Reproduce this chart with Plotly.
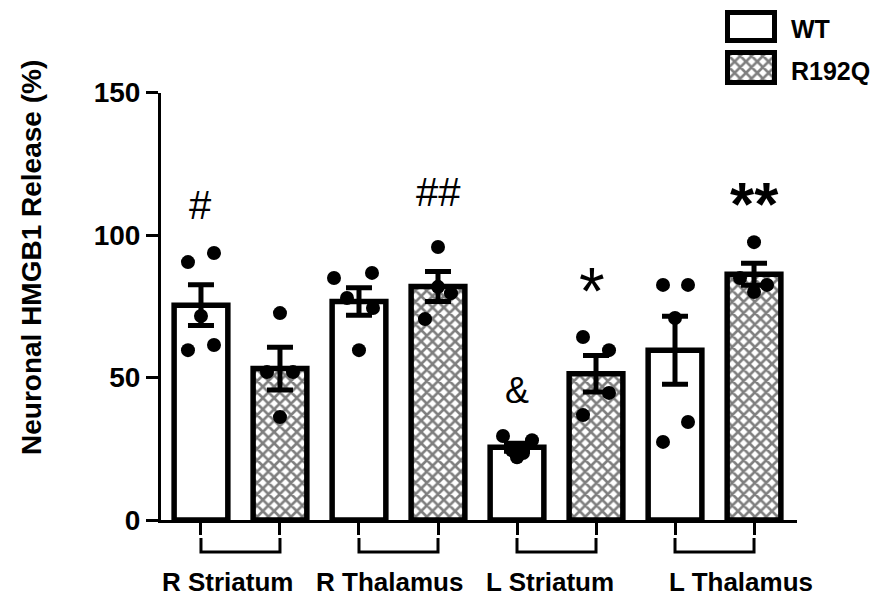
import numpy as np
import plotly.graph_objects as go

# ---- data -------------------------------------------------------------
regions = ["R Striatum", "R Thalamus", "L Striatum", "L Thalamus"]
groups = ["WT", "R192Q"]

# individual animals, neuronal HMGB1 release (%)
wt_points = [
    [90.5, 93.7, 71.6, 59.6, 61.4],   # R Striatum
    [84.9, 86.7, 77.9, 74.4, 59.6],   # R Thalamus
    [29.5, 28.0, 22.0, 24.5, 23.5],   # L Striatum
    [82.5, 82.5, 70.9, 34.4, 27.4],   # L Thalamus
]
r192q_points = [
    [72.6, 51.9, 51.9, 36.1],         # R Striatum
    [95.8, 81.8, 79.6, 70.5],         # R Thalamus
    [64.2, 59.6, 44.6, 36.8],         # L Striatum
    [97.5, 84.9, 82.5, 80.0],         # L Thalamus
]
significance = ["#", "", "", "##", "&", "*", "", "**"]

y_ticks = [0, 50, 100, 150]

# ---- layout helpers ---------------------------------------------------
FONT = "Liberation Sans, Arial, sans-serif"
BAR_W = 0.68
PX_PER_UNIT = 79.0           # horizontal pixels per category slot
X_RANGE = [-0.506, 7.544]
AREA_TOP, AREA_BOTTOM = 4, 520
AREA_H = AREA_BOTTOM - AREA_TOP
HATCH = dict(shape="x", size=8, solidity=0.55, fgcolor="black", bgcolor="white")


def paper_y(px):
    return (AREA_BOTTOM - px) / AREA_H


# horizontal jitter of the dots (pixels), per bar
wt_jitter = [[-13, 13, 0, -13, 13], [-25, 13, -12, 14, 0],
             [-14, 15, 0, -5, 6], [-12, 13, 0, 13, -12]]
r192q_jitter = [[0, -13, 13, 0], [0, 0, 13, -13],
                [-13, 13, 13, -13], [0, -14, 13, 0]]

wt_x = [2 * i for i in range(len(regions))]
mut_x = [2 * i + 1 for i in range(len(regions))]


def mean_sem(pts):
    a = np.asarray(pts, dtype=float)
    return a.mean(), a.std(ddof=1) / np.sqrt(a.size)


wt_stats = [mean_sem(p) for p in wt_points]
mut_stats = [mean_sem(p) for p in r192q_points]

fig = go.Figure()

# bars with SEM error bars
fig.add_trace(go.Bar(
    x=wt_x, y=[m for m, _ in wt_stats], width=BAR_W,
    marker=dict(color="white", line=dict(color="black", width=5.5)),
    error_y=dict(type="data", array=[s for _, s in wt_stats], visible=True,
                 color="black", thickness=5, width=13),
    showlegend=False, name=groups[0]))
fig.add_trace(go.Bar(
    x=mut_x, y=[m for m, _ in mut_stats], width=BAR_W,
    marker=dict(color="white", line=dict(color="black", width=5.5), pattern=HATCH),
    error_y=dict(type="data", array=[s for _, s in mut_stats], visible=True,
                 color="black", thickness=5, width=13),
    showlegend=False, name=groups[1]))

# individual points
dx, dy = [], []
for xs, pts, jit in ((wt_x, wt_points, wt_jitter), (mut_x, r192q_points, r192q_jitter)):
    for x0, p, j in zip(xs, pts, jit):
        for v, o in zip(p, j):
            dx.append(x0 + o / PX_PER_UNIT)
            dy.append(v)
fig.add_trace(go.Scatter(x=dx, y=dy, mode="markers",
                         marker=dict(color="black", size=14, line=dict(width=0)),
                         showlegend=False, cliponaxis=False))

# legend swatches drawn on a small separate subplot
fig.add_trace(go.Bar(x=[39], y=[28], base=[49.5], width=[47],
                     marker=dict(color="white", line=dict(color="black", width=5)),
                     xaxis="x2", yaxis="y2", showlegend=False, hoverinfo="skip"))
fig.add_trace(go.Bar(x=[39], y=[30], base=[7.5], width=[47],
                     marker=dict(color="white", line=dict(color="black", width=5),
                                 pattern=HATCH),
                     xaxis="x2", yaxis="y2", showlegend=False, hoverinfo="skip"))

annotations = []
# legend text
for txt, py in zip(groups, [29.5, 71]):
    annotations.append(dict(text=txt, xref="paper", yref="paper",
                            x=(789 - 161) / 636, y=paper_y(py),
                            xanchor="left", yanchor="middle", showarrow=False,
                            font=dict(family=FONT, size=25, color="black", weight="bold")))

# significance marks: x offset, y value, font size, weight
sig_style = {0: (0.0, 110.5, 40, "normal"), 3: (0.0, 115, 40, "normal"),
             4: (0.0, 45.6, 36, "normal"), 5: (-0.05, 80.5, 66, "normal"),
             7: (0.0, 111, 62, "bold")}
all_x = [v for pair in zip(wt_x, mut_x) for v in pair]
for i, s in enumerate(significance):
    if not s:
        continue
    off, yv, fs, wt = sig_style[i]
    annotations.append(dict(text=s, x=all_x[i] + off, y=yv, xref="x", yref="y",
                            showarrow=False, xanchor="center", yanchor="middle",
                            font=dict(family=FONT, size=fs, color="black", weight=wt)))

# region labels
label_px = [228, 390, 550, 741]
for name, px in zip(regions, label_px):
    annotations.append(dict(text=name, xref="x", yref="paper",
                            x=(px - 201) / PX_PER_UNIT, y=paper_y(582),
                            showarrow=False, xanchor="center", yanchor="middle",
                            font=dict(family=FONT, size=26, color="black", weight="bold")))

# y-axis title
annotations.append(dict(text="Neuronal HMGB1 Release (%)", xref="paper", yref="paper",
                        x=(31 - 161) / 636, y=paper_y(258), textangle=-90,
                        showarrow=False, xanchor="center", yanchor="middle",
                        font=dict(family=FONT, size=28, color="black", weight="bold")))

# brackets joining the two genotypes of each region
shapes = []
for a, b in zip(wt_x, mut_x):
    shapes.append(dict(type="path", xref="x", yref="paper",
                       path=f"M {a},{paper_y(538)} L {a},{paper_y(552)} "
                            f"L {b},{paper_y(552)} L {b},{paper_y(538)}",
                       line=dict(color="black", width=3)))

fig.update_layout(
    width=876, height=598,
    margin=dict(l=161, r=79, t=AREA_TOP, b=598 - AREA_BOTTOM, autoexpand=False),
    paper_bgcolor="white", plot_bgcolor="white",
    barmode="overlay", showlegend=False,
    xaxis=dict(range=X_RANGE, domain=[0, 1], tickvals=all_x, showticklabels=False,
               ticks="outside", ticklen=12, tickwidth=3, tickcolor="black",
               showline=True, linewidth=3, linecolor="black", automargin=False,
               showgrid=False, zeroline=False, anchor="y"),
    yaxis=dict(range=[0, 150], domain=[0, paper_y(92.5)], tickvals=y_ticks,
               ticks="outside", ticklen=12, tickwidth=3, tickcolor="black",
               showline=True, linewidth=3, linecolor="black", automargin=False,
               showgrid=False, zeroline=False, anchor="x",
               tickfont=dict(family=FONT, size=28, color="black", weight="bold")),
    xaxis2=dict(domain=[(712 - 161) / 636, (790 - 161) / 636], range=[0, 78],
                visible=False, anchor="y2", automargin=False),
    yaxis2=dict(domain=[paper_y(90), paper_y(5)], range=[0, 85],
                visible=False, anchor="x2", automargin=False),
    annotations=annotations, shapes=shapes,
)

fig.write_html("out.html")
